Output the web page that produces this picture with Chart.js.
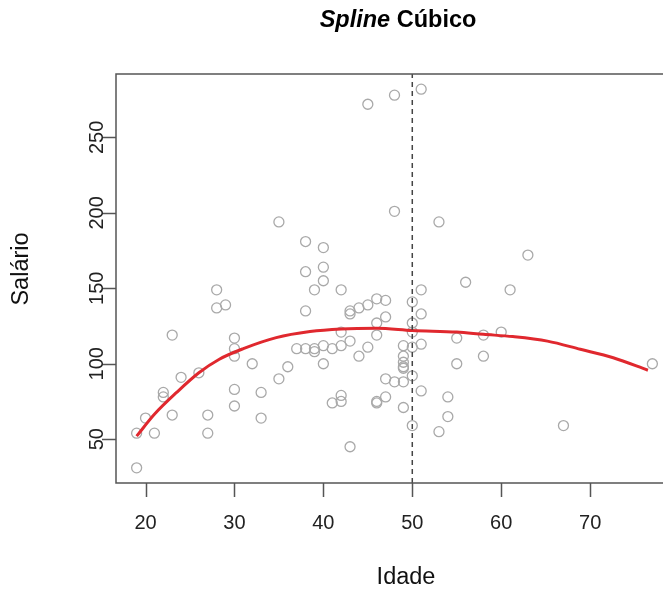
<!DOCTYPE html>
<html>
<head>
<meta charset="utf-8">
<script src="https://cdn.jsdelivr.net/npm/chart.js@4/dist/chart.umd.min.js"></script>
<style>
  html, body { margin: 0; padding: 0; background: #fff; overflow: hidden; width: 663px; height: 590px; }
  canvas { display: block; }
</style>
</head>
<body>
<canvas id="grafico" width="690" height="590"></canvas>
<script>
// Observações: idade e salário de cada trabalhador
const idade = [
  19, 19, 20, 21, 22, 22, 23, 23, 24, 26, 27, 27, 28, 28, 29,
  30, 30, 30, 30, 30, 32, 33, 33, 35, 35, 36, 37,
  38, 38, 38, 38, 39, 39, 39, 40, 40, 40, 40, 40, 41, 41,
  42, 42, 42, 42, 42, 43, 43, 43, 43, 44, 44, 45, 45, 45,
  46, 46, 46, 46, 46, 47, 47, 47, 47, 48, 48, 48,
  49, 49, 49, 49, 49, 49, 49, 50, 50, 50, 50, 50, 50,
  51, 51, 51, 51, 51, 53, 53, 54, 54, 55, 55, 56, 58, 58,
  60, 61, 63, 67, 77
];
const salario = [
  31, 54, 64, 54, 81, 78, 119, 66, 91, 94, 66, 54, 149, 137, 139,
  117, 110, 105, 83, 72, 100, 81, 64, 194, 90, 98, 110,
  181, 161, 135, 110, 149, 110, 108, 177, 164, 155, 112, 100, 110, 74,
  149, 121, 112, 79, 75, 135, 133, 115, 45, 137, 105, 272, 139, 111,
  143, 127, 119, 75, 74, 142, 131, 90, 78, 278, 201, 88,
  112, 105, 101, 98, 97, 88, 71, 141, 127, 121, 111, 92, 59,
  282, 149, 133, 113, 82, 194, 55, 78, 65, 117, 100, 154, 119, 105,
  121, 149, 172, 59, 100
];

// Curva ajustada pelo spline cúbico (nó em 50 anos)
const curvaIdade   = [19, 21, 23.5, 26, 28.3, 31, 34.7, 38.5, 42, 46, 50, 55, 58, 61.3, 65.2, 68.9, 72.6, 76.5];
const curvaSalario = [52, 66.5, 81, 94, 103, 110, 117.3, 121.3, 123, 123.5, 122, 121, 119.5, 118, 115, 109.6, 104, 95.7];

const no = 50;
const xTicks = [20, 30, 40, 50, 60, 70];
const yTicks = [50, 100, 150, 200, 250];

const titulo = { italico: 'Spline', resto: ' Cúbico' };
const rotuloX = 'Idade';
const rotuloY = 'Salário';

// Limites com a folga de 4% em cada lado
function limites(v) {
  const lo = Math.min(...v), hi = Math.max(...v), d = (hi - lo) * 0.04;
  return [lo - d, hi + d];
}
const [xMin, xMax] = limites(idade);
const [yMin, yMax] = limites(salario);

const FONTE = '"Liberation Sans", Arial, Helvetica, sans-serif';

const molduraEixos = {
  id: 'molduraEixos',
  afterDraw(chart) {
    const { ctx, chartArea: a, scales: { x, y } } = chart;
    ctx.save();
    // caixa em volta da área do gráfico
    ctx.strokeStyle = '#555';
    ctx.lineWidth = 1.5;
    ctx.beginPath();
    ctx.moveTo(a.right, a.top);
    ctx.lineTo(a.left, a.top);
    ctx.lineTo(a.left, a.bottom);
    ctx.lineTo(a.right, a.bottom);
    ctx.stroke();

    // marcas e rótulos do eixo x
    ctx.fillStyle = '#222';
    ctx.font = '20px ' + FONTE;
    ctx.textAlign = 'center';
    ctx.textBaseline = 'middle';
    ctx.beginPath();
    xTicks.forEach(v => {
      const px = Math.round(x.getPixelForValue(v)) + 0.5;
      ctx.moveTo(px, a.bottom);
      ctx.lineTo(px, a.bottom + 14);
    });
    ctx.stroke();
    xTicks.forEach(v => ctx.fillText(String(v), x.getPixelForValue(v), 523));

    // marcas e rótulos do eixo y (texto na vertical)
    ctx.beginPath();
    yTicks.forEach(v => {
      const py = Math.round(y.getPixelForValue(v)) + 0.5;
      ctx.moveTo(a.left, py);
      ctx.lineTo(a.left - 14, py);
    });
    ctx.stroke();
    yTicks.forEach(v => {
      ctx.save();
      ctx.translate(97, y.getPixelForValue(v));
      ctx.rotate(-Math.PI / 2);
      ctx.fillText(String(v), 0, 0);
      ctx.restore();
    });

    // títulos dos eixos
    ctx.fillStyle = '#111';
    ctx.font = '23.5px ' + FONTE;
    ctx.fillText(rotuloX, 406, 578);
    ctx.save();
    ctx.translate(22, 269);
    ctx.rotate(-Math.PI / 2);
    ctx.fillText(rotuloY, 0, 0);
    ctx.restore();

    // título principal
    ctx.fillStyle = '#000';
    const fIt = 'italic bold 23.5px ' + FONTE;
    const fBd = 'bold 23.5px ' + FONTE;
    ctx.font = fIt; const w1 = ctx.measureText(titulo.italico).width;
    ctx.font = fBd; const w2 = ctx.measureText(titulo.resto).width;
    const x0 = 398 - (w1 + w2) / 2;
    ctx.textAlign = 'left';
    ctx.font = fIt; ctx.fillText(titulo.italico, x0, 21);
    ctx.font = fBd; ctx.fillText(titulo.resto, x0 + w1, 21);
    ctx.restore();
  }
};

new Chart(document.getElementById('grafico'), {
  type: 'scatter',
  data: {
    datasets: [
      {
        label: 'Observações',
        data: idade.map((v, i) => ({ x: v, y: salario[i] })),
        pointStyle: 'circle',
        pointRadius: 5,
        pointBorderWidth: 1.3,
        pointBorderColor: '#a9a9a9',
        pointBackgroundColor: 'rgba(0,0,0,0)',
        showLine: false,
        order: 3
      },
      {
        label: 'Spline cúbico',
        data: curvaIdade.map((v, i) => ({ x: v, y: curvaSalario[i] })),
        showLine: true,
        cubicInterpolationMode: 'monotone',
        borderColor: '#e0282e',
        borderWidth: 3,
        pointRadius: 0,
        order: 2
      },
      {
        label: 'Nó',
        data: [{ x: no, y: yMin }, { x: no, y: yMax }],
        showLine: true,
        borderColor: '#444',
        borderWidth: 1.5,
        borderDash: [5, 4],
        pointRadius: 0,
        order: 1
      }
    ]
  },
  options: {
    responsive: false,
    animation: false,
    devicePixelRatio: 1,
    layout: { padding: { left: 116, top: 74, bottom: 107, right: 17 } },
    plugins: { legend: { display: false }, tooltip: { enabled: false }, title: { display: false } },
    scales: {
      x: { type: 'linear', min: xMin, max: xMax, display: false },
      y: { type: 'linear', min: yMin, max: yMax, display: false }
    }
  },
  plugins: [molduraEixos]
});
</script>
</body>
</html>
